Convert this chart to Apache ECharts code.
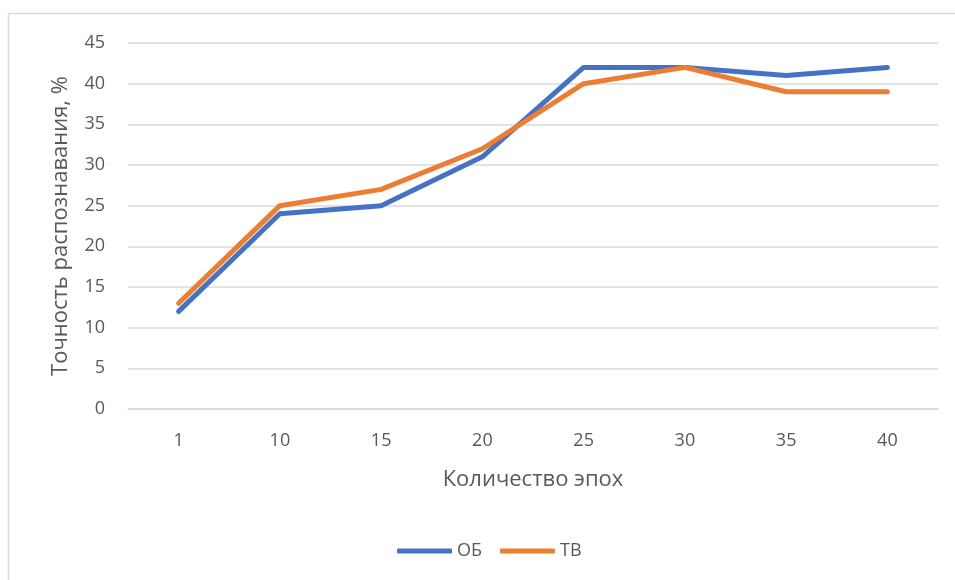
<!DOCTYPE html>
<html>
<head>
<meta charset="utf-8">
<script src="https://cdn.jsdelivr.net/npm/echarts@6/dist/echarts.min.js"></script>
<style>
  html, body { margin: 0; padding: 0; background: #fff; }
  #chart { width: 955px; height: 580px; }
</style>
</head>
<body>
<div id="chart"></div>
<script>
// Epoch counts on the x axis
var epochs = ['1', '10', '15', '20', '25', '30', '35', '40'];
// Recognition accuracy, %
var seriesOB = [12, 24, 25, 31, 42, 42, 41, 42];
var seriesTV = [13, 25, 27, 32, 40, 42, 39, 39];

var textColor = '#595959';
var fontFamily = '"Open Sans", "Noto Sans", sans-serif';

var chart = echarts.init(document.getElementById('chart'));
chart.setOption({
  animation: false,
  backgroundColor: '#ffffff',
  textStyle: { fontFamily: fontFamily, color: textColor },
  graphic: [{
    type: 'rect',
    shape: { x: 8.5, y: 13.5, width: 1000, height: 700 },
    style: { fill: 'none', stroke: '#d9d9d9', lineWidth: 1.5 },
    silent: true
  }],
  grid: { left: 128, right: 17, top: 43, bottom: 171 },
  legend: {
    top: 542,
    left: 397,
    padding: 0,
    itemWidth: 55,
    itemHeight: 5,
    itemGap: 18,
    icon: 'roundRect',
    textStyle: { fontSize: 18, color: textColor, fontFamily: fontFamily },
    data: ['ОБ', 'ТВ']
  },
  xAxis: {
    type: 'category',
    data: epochs,
    boundaryGap: true,
    name: 'Количество эпох',
    nameLocation: 'middle',
    nameGap: 60,
    nameTextStyle: { fontSize: 22, color: textColor },
    axisLine: { show: true, lineStyle: { color: '#d9d9d9', width: 1.5 } },
    axisTick: { show: false },
    axisLabel: { fontSize: 18, color: textColor, margin: 23 }
  },
  yAxis: {
    type: 'value',
    min: 0,
    max: 45,
    interval: 5,
    name: 'Точность распознавания, %',
    nameLocation: 'middle',
    nameGap: 56,
    nameTextStyle: { fontSize: 22, color: textColor },
    axisLine: { show: false },
    axisTick: { show: false },
    axisLabel: { fontSize: 18, color: textColor, margin: 23 },
    splitLine: { lineStyle: { color: '#d9d9d9', width: 1.5 } }
  },
  series: [
    {
      name: 'ОБ',
      type: 'line',
      data: seriesOB,
      showSymbol: false,
      symbol: 'none',
      itemStyle: { color: '#4472C4' },
      lineStyle: { color: '#4472C4', width: 5, cap: 'round', join: 'round' }
    },
    {
      name: 'ТВ',
      type: 'line',
      data: seriesTV,
      showSymbol: false,
      symbol: 'none',
      itemStyle: { color: '#ED7D31' },
      lineStyle: { color: '#ED7D31', width: 5, cap: 'round', join: 'round' }
    }
  ]
});
</script>
</body>
</html>
